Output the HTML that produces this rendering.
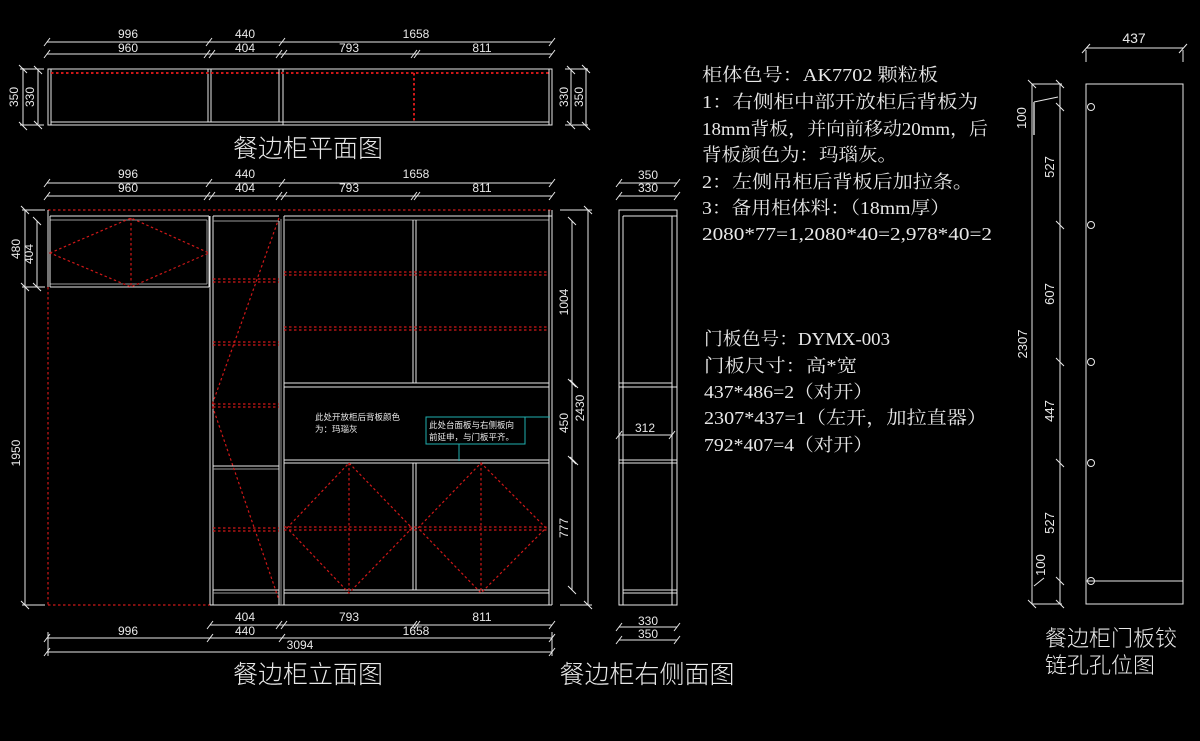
<!DOCTYPE html>
<html><head><meta charset="utf-8"><style>
html,body{margin:0;padding:0;background:#000;}
svg{display:block}
.w{stroke:#e8e8e8;stroke-width:1;fill:none}
.g{stroke:#9a9a9a;stroke-width:1;fill:none}
.r{stroke:#d01818;stroke-width:1.2;fill:none;stroke-dasharray:2.5 2.5}
.d{font-family:"Liberation Sans","Noto Sans CJK SC",sans-serif;font-size:12px;fill:#e8e8e8}
.n{font-family:"Liberation Serif","Noto Serif CJK SC",serif;font-size:18px;fill:#e8e8e8}
.ti{font-family:"Liberation Sans","Noto Sans CJK SC",sans-serif;font-size:25px;fill:#e8e8e8;font-weight:300}
.sm{font-family:"Liberation Sans","Noto Sans CJK SC",sans-serif;font-size:8.5px;fill:#e8e8e8}
</style></head><body>
<svg width="1200" height="741" viewBox="0 0 1200 741" xmlns="http://www.w3.org/2000/svg">
<rect width="1200" height="741" fill="#000"/>

<!-- ============ PLAN VIEW ============ -->
<g>
<line class="w" x1="47" y1="42" x2="552" y2="42"/>
<line class="w" x1="47" y1="54" x2="552" y2="54"/>
<path class="w" d="M44 46 L50 38 M206 46 L212 38 M279 46 L285 38 M549 46 L555 38
M44 58 L50 50 M204 58 L210 50 M209 58 L215 50 M276 58 L282 50 M281 58 L287 50 M411 58 L417 50 M414 58 L420 50 M549 58 L555 50"/>
<text class="d" x="128" y="38" text-anchor="middle">996</text>
<text class="d" x="245" y="38" text-anchor="middle">440</text>
<text class="d" x="416" y="38" text-anchor="middle">1658</text>
<text class="d" x="128" y="52" text-anchor="middle">960</text>
<text class="d" x="245" y="52" text-anchor="middle">404</text>
<text class="d" x="349" y="52" text-anchor="middle">793</text>
<text class="d" x="482" y="52" text-anchor="middle">811</text>
<rect class="w" x="48" y="69" width="504" height="56"/>
<line class="w" x1="51" y1="69" x2="51" y2="125"/>
<line class="w" x1="51" y1="122" x2="549" y2="122"/>
<line class="w" x1="549" y1="69" x2="549" y2="125"/>
<line class="w" x1="208" y1="69" x2="208" y2="122"/>
<line class="w" x1="211" y1="69" x2="211" y2="122"/>
<line class="w" x1="279" y1="69" x2="279" y2="122"/>
<line class="w" x1="283" y1="69" x2="283" y2="125"/>
<line class="r" x1="51" y1="73" x2="549" y2="73" style="stroke-width:2"/>
<line class="r" x1="414" y1="73" x2="414" y2="122" style="stroke-width:2"/>
<line class="w" x1="23" y1="68" x2="23" y2="126"/>
<line class="w" x1="38" y1="70" x2="38" y2="124"/>
<line class="w" x1="20" y1="69" x2="44" y2="69"/><line class="w" x1="20" y1="125" x2="44" y2="125"/>
<path class="w" d="M19 65 L27 73 M19 122 L27 130 M34 66 L42 74 M34 121 L42 129"/>
<text class="d" transform="translate(18,97) rotate(-90)" text-anchor="middle">350</text>
<text class="d" transform="translate(34,97) rotate(-90)" text-anchor="middle">330</text>
<line class="w" x1="571" y1="70" x2="571" y2="124"/>
<line class="w" x1="586" y1="68" x2="586" y2="126"/>
<line class="w" x1="565" y1="69" x2="588" y2="69"/><line class="w" x1="565" y1="125" x2="588" y2="125"/>
<path class="w" d="M567 66 L575 74 M567 121 L575 129 M582 65 L590 73 M582 122 L590 130"/>
<text class="d" transform="translate(568,97) rotate(-90)" text-anchor="middle">330</text>
<text class="d" transform="translate(583,97) rotate(-90)" text-anchor="middle">350</text>
<text class="ti" x="308" y="157" text-anchor="middle">餐边柜平面图</text>
</g>

<!-- ============ ELEVATION ============ -->
<g>
<line class="w" x1="47" y1="183" x2="552" y2="183"/>
<line class="w" x1="47" y1="196" x2="552" y2="196"/>
<path class="w" d="M44 187 L50 179 M206 187 L212 179 M279 187 L285 179 M549 187 L555 179
M44 200 L50 192 M204 200 L210 192 M209 200 L215 192 M276 200 L282 192 M281 200 L287 192 M411 200 L417 192 M414 200 L420 192 M549 200 L555 192"/>
<text class="d" x="128" y="178" text-anchor="middle">996</text>
<text class="d" x="245" y="178" text-anchor="middle">440</text>
<text class="d" x="416" y="178" text-anchor="middle">1658</text>
<text class="d" x="128" y="192" text-anchor="middle">960</text>
<text class="d" x="245" y="192" text-anchor="middle">404</text>
<text class="d" x="349" y="192" text-anchor="middle">793</text>
<text class="d" x="482" y="192" text-anchor="middle">811</text>

<line class="r" x1="48" y1="210" x2="552" y2="210"/>
<line class="w" x1="48" y1="210" x2="48" y2="287"/>
<line class="w" x1="50" y1="216" x2="209" y2="216"/>
<line class="g" x1="50" y1="220" x2="207" y2="220"/>
<line class="w" x1="50" y1="287" x2="209" y2="287"/>
<line class="g" x1="50" y1="284" x2="207" y2="284"/>
<line class="w" x1="50" y1="216" x2="50" y2="287"/>
<line class="g" x1="207" y1="220" x2="207" y2="284"/>
<line class="w" x1="209" y1="216" x2="209" y2="287"/>
<path class="r" d="M50 253 L131 218 L209 253 L131 287 Z M131 218 L131 287"/>
<line class="r" x1="48" y1="287" x2="48" y2="605"/>
<line class="r" x1="48" y1="605" x2="210" y2="605"/>
<line class="w" x1="210" y1="216" x2="210" y2="605"/>
<line class="w" x1="213" y1="216" x2="213" y2="605"/>
<line class="w" x1="213" y1="216" x2="279" y2="216"/>
<line class="g" x1="213" y1="221" x2="279" y2="221"/>
<line class="w" x1="213" y1="466" x2="279" y2="466"/>
<line class="g" x1="213" y1="469" x2="279" y2="469"/>
<line class="w" x1="213" y1="590" x2="279" y2="590"/>
<line class="g" x1="213" y1="593" x2="279" y2="593"/>
<line class="w" x1="210" y1="605" x2="552" y2="605"/>
<line class="w" x1="279" y1="221" x2="279" y2="605"/>
<line class="g" x1="281" y1="219" x2="281" y2="605"/>
<line class="w" x1="284" y1="216" x2="284" y2="605"/>
<path class="r" d="M213 279 L279 279 M213 282 L279 282 M213 342 L279 342 M213 345 L279 345 M213 404 L279 404 M213 407 L279 407 M213 528 L279 528 M213 531 L279 531"/>
<path class="r" d="M279 218 L212 405 L279 600"/>
<line class="w" x1="284" y1="216" x2="552" y2="216"/>
<line class="g" x1="284" y1="220" x2="549" y2="220"/>
<line class="w" x1="549" y1="210" x2="549" y2="605"/>
<line class="w" x1="552" y1="210" x2="552" y2="605"/>
<line class="w" x1="413" y1="220" x2="413" y2="383"/>
<line class="w" x1="416" y1="220" x2="416" y2="383"/>
<line class="w" x1="284" y1="383" x2="549" y2="383"/>
<line class="w" x1="284" y1="387" x2="549" y2="387"/>
<line class="w" x1="284" y1="460" x2="549" y2="460"/>
<line class="w" x1="284" y1="463" x2="549" y2="463"/>
<line class="w" x1="413" y1="463" x2="413" y2="590"/>
<line class="w" x1="416" y1="463" x2="416" y2="590"/>
<line class="w" x1="284" y1="590" x2="549" y2="590"/>
<line class="w" x1="284" y1="593" x2="549" y2="593"/>
<path class="r" d="M284 272 L549 272 M284 275 L549 275 M284 327 L549 327 M284 330 L549 330 M284 527 L549 527 M284 530 L549 530"/>
<path class="r" d="M287 528 L349 463 L412 528 L349 593 Z M349 463 L349 593 M418 528 L481 463 L546 528 L481 593 Z M481 463 L481 593"/>
<text class="sm" x="315" y="420">此处开放柜后背板颜色</text>
<text class="sm" x="315" y="432">为：玛瑙灰</text>
<rect x="426" y="417" width="99" height="27" fill="none" stroke="#20b0b0" stroke-width="1"/>
<line x1="525" y1="417" x2="550" y2="417" stroke="#20b0b0"/>
<line x1="459" y1="444" x2="459" y2="461" stroke="#20b0b0"/>
<text class="sm" x="429" y="428">此处台面板与右侧板向</text>
<text class="sm" x="429" y="440">前延申，与门板平齐。</text>

<line class="w" x1="25" y1="210" x2="25" y2="605"/>
<line class="w" x1="37" y1="221" x2="37" y2="287"/>
<line class="w" x1="22" y1="210" x2="45" y2="210"/>
<line class="w" x1="22" y1="287" x2="45" y2="287"/>
<line class="w" x1="22" y1="605" x2="45" y2="605"/>
<path class="w" d="M21 206 L29 214 M21 283 L29 291 M21 601 L29 609 M33 217 L41 225 M33 283 L41 291"/>
<text class="d" transform="translate(20,249) rotate(-90)" text-anchor="middle">480</text>
<text class="d" transform="translate(33,254) rotate(-90)" text-anchor="middle">404</text>
<text class="d" transform="translate(20,453) rotate(-90)" text-anchor="middle">1950</text>
<line class="w" x1="572" y1="221" x2="572" y2="590"/>
<line class="w" x1="588" y1="210" x2="588" y2="605"/>
<line class="w" x1="560" y1="210" x2="592" y2="210"/>
<line class="w" x1="560" y1="605" x2="592" y2="605"/>
<path class="w" d="M568 217 L576 225 M568 379 L576 387 M570 380 L578 388 M568 456 L576 464 M570 457 L578 465 M568 586 L576 594 M584 206 L592 214 M584 601 L592 609"/>
<text class="d" transform="translate(568,302) rotate(-90)" text-anchor="middle">1004</text>
<text class="d" transform="translate(568,423) rotate(-90)" text-anchor="middle">450</text>
<text class="d" transform="translate(568,528) rotate(-90)" text-anchor="middle">777</text>
<text class="d" transform="translate(584,408) rotate(-90)" text-anchor="middle">2430</text>
<line class="w" x1="210" y1="625" x2="552" y2="625"/>
<line class="w" x1="47" y1="638" x2="552" y2="638"/>
<line class="w" x1="47" y1="652" x2="552" y2="652"/>
<path class="w" d="M207 629 L213 621 M276 629 L282 621 M281 629 L287 621 M411 629 L417 621 M414 629 L420 621 M549 629 L555 621
M44 642 L50 634 M207 642 L213 634 M279 642 L285 634 M549 642 L555 634 M44 656 L50 648 M549 656 L555 648"/>
<line class="w" x1="48" y1="632" x2="48" y2="656"/>
<line class="w" x1="552" y1="632" x2="552" y2="656"/>
<text class="d" x="245" y="621" text-anchor="middle">404</text>
<text class="d" x="349" y="621" text-anchor="middle">793</text>
<text class="d" x="482" y="621" text-anchor="middle">811</text>
<text class="d" x="128" y="635" text-anchor="middle">996</text>
<text class="d" x="245" y="635" text-anchor="middle">440</text>
<text class="d" x="416" y="635" text-anchor="middle">1658</text>
<text class="d" x="300" y="649" text-anchor="middle">3094</text>
<text class="ti" x="308" y="683" text-anchor="middle">餐边柜立面图</text>
</g>

<!-- ============ SIDE VIEW ============ -->
<g>
<line class="w" x1="619" y1="183" x2="677" y2="183"/>
<line class="w" x1="619" y1="196" x2="677" y2="196"/>
<path class="w" d="M616 187 L622 179 M674 187 L680 179 M616 200 L622 192 M674 200 L680 192"/>
<text class="d" x="648" y="179" text-anchor="middle">350</text>
<text class="d" x="648" y="192" text-anchor="middle">330</text>
<rect class="w" x="619" y="210" width="58" height="395"/>
<line class="w" x1="623" y1="216" x2="623" y2="605"/>
<line class="w" x1="672" y1="216" x2="672" y2="605"/>
<line class="w" x1="623" y1="216" x2="677" y2="216"/>
<line class="w" x1="619" y1="383" x2="672" y2="383"/>
<line class="w" x1="619" y1="387" x2="677" y2="387"/>
<line class="w" x1="619" y1="460" x2="677" y2="460"/>
<line class="w" x1="619" y1="463" x2="677" y2="463"/>
<line class="w" x1="623" y1="590" x2="677" y2="590"/>
<line class="w" x1="623" y1="593" x2="677" y2="593"/>
<line class="w" x1="619" y1="435" x2="672" y2="435"/>
<path class="w" d="M616 439 L622 431 M669 439 L675 431"/>
<text class="d" x="645" y="432" text-anchor="middle">312</text>
<line class="w" x1="619" y1="627" x2="677" y2="627"/>
<line class="w" x1="619" y1="640" x2="677" y2="640"/>
<path class="w" d="M616 631 L622 623 M674 631 L680 623 M616 644 L622 636 M674 644 L680 636"/>
<text class="d" x="648" y="625" text-anchor="middle">330</text>
<text class="d" x="648" y="638" text-anchor="middle">350</text>
<text class="ti" x="647" y="683" text-anchor="middle">餐边柜右侧面图</text>
</g>

<!-- ============ NOTES ============ -->
<g class="n">
<text x="702" y="81" textLength="236" lengthAdjust="spacingAndGlyphs">柜体色号：AK7702 颗粒板</text>
<text x="702" y="108" textLength="276" lengthAdjust="spacingAndGlyphs">1：右侧柜中部开放柜后背板为</text>
<text x="702" y="135" textLength="286" lengthAdjust="spacingAndGlyphs">18mm背板，并向前移动20mm，后</text>
<text x="702" y="161" textLength="195" lengthAdjust="spacingAndGlyphs">背板颜色为：玛瑙灰。</text>
<text x="702" y="188" textLength="271" lengthAdjust="spacingAndGlyphs">2：左侧吊柜后背板后加拉条。</text>
<text x="702" y="214" textLength="248" lengthAdjust="spacingAndGlyphs">3：备用柜体料：（18mm厚）</text>
<text x="702" y="240" textLength="290" lengthAdjust="spacingAndGlyphs">2080*77=1,2080*40=2,978*40=2</text>
<text x="704" y="345" textLength="186" lengthAdjust="spacingAndGlyphs">门板色号：DYMX-003</text>
<text x="704" y="372" textLength="153" lengthAdjust="spacingAndGlyphs">门板尺寸：高*宽</text>
<text x="704" y="398" textLength="169" lengthAdjust="spacingAndGlyphs">437*486=2（对开）</text>
<text x="704" y="424" textLength="283" lengthAdjust="spacingAndGlyphs">2307*437=1（左开，加拉直器）</text>
<text x="704" y="451" textLength="169" lengthAdjust="spacingAndGlyphs">792*407=4（对开）</text>
</g>

<!-- ============ HINGE VIEW ============ -->
<g>
<line class="w" x1="1086" y1="48" x2="1183" y2="48"/>
<path class="w" d="M1082 53 L1090 44 M1179 53 L1187 44"/>
<line class="w" x1="1086" y1="50" x2="1086" y2="62"/>
<line class="w" x1="1183" y1="50" x2="1183" y2="62"/>
<text class="d" x="1134" y="43" text-anchor="middle" style="font-size:14px">437</text>
<rect class="w" x="1086" y="84" width="97" height="520"/>
<line class="w" x1="1086" y1="581" x2="1183" y2="581"/>
<circle class="w" cx="1091" cy="107" r="3.5"/>
<circle class="w" cx="1091" cy="225" r="3.5"/>
<circle class="w" cx="1091" cy="362" r="3.5"/>
<circle class="w" cx="1091" cy="463" r="3.5"/>
<circle class="w" cx="1091" cy="581" r="3.5"/>
<line class="w" x1="1032" y1="84" x2="1032" y2="604"/>
<line class="w" x1="1060" y1="84" x2="1060" y2="604"/>
<line class="w" x1="1032" y1="84" x2="1062" y2="84"/>
<line class="w" x1="1032" y1="604" x2="1062" y2="604"/>
<path class="w" d="M1028 80 L1036 88 M1028 600 L1036 608 M1056 80 L1064 88 M1056 103 L1064 111 M1056 221 L1064 229 M1056 358 L1064 366 M1056 459 L1064 467 M1056 577 L1064 585 M1056 600 L1064 608"/>
<path class="w" d="M1034 102 L1058 97 M1034 586 L1044 578"/>
<line class="g" x1="1034" y1="102" x2="1034" y2="135" style="stroke-width:2"/>
<text class="d" transform="translate(1026,118) rotate(-90)" text-anchor="middle" style="font-size:13px">100</text>
<text class="d" transform="translate(1054,167) rotate(-90)" text-anchor="middle" style="font-size:13px">527</text>
<text class="d" transform="translate(1054,294) rotate(-90)" text-anchor="middle" style="font-size:13px">607</text>
<text class="d" transform="translate(1027,344) rotate(-90)" text-anchor="middle" style="font-size:13px">2307</text>
<text class="d" transform="translate(1054,411) rotate(-90)" text-anchor="middle" style="font-size:13px">447</text>
<text class="d" transform="translate(1054,523) rotate(-90)" text-anchor="middle" style="font-size:13px">527</text>
<text class="d" transform="translate(1045,565) rotate(-90)" text-anchor="middle" style="font-size:13px">100</text>
<text class="ti" x="1045" y="646" style="font-size:22px">餐边柜门板铰</text>
<text class="ti" x="1045" y="673" style="font-size:22px">链孔孔位图</text>
</g>
</svg>
</body></html>
